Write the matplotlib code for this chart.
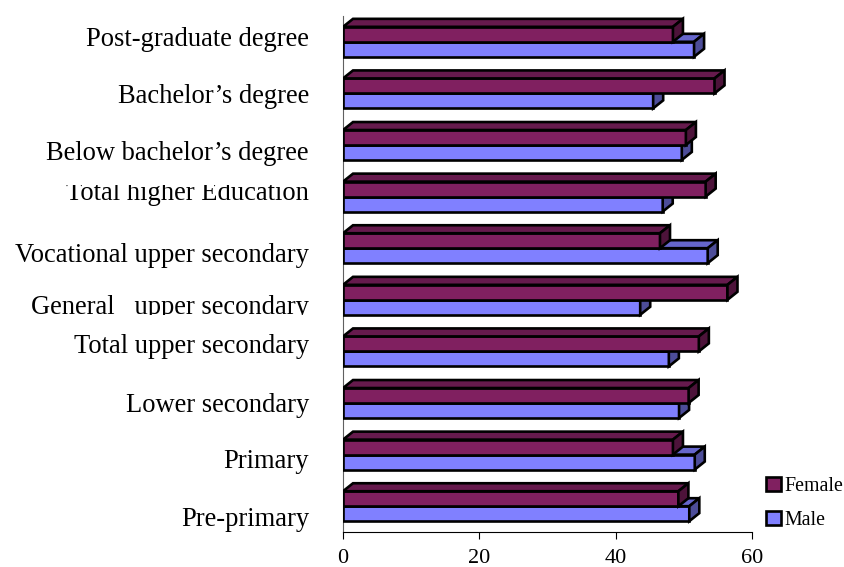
import matplotlib
matplotlib.use('Agg')
import matplotlib.pyplot as plt
from matplotlib.patches import Patch, Polygon
from matplotlib.transforms import Bbox

plt.rcParams['font.family'] = ['Liberation Serif', 'DejaVu Serif']

categories = ['Pre-primary', 'Primary', 'Lower secondary', 'Total upper secondary',
              'General   upper secondary', 'Vocational upper secondary',
              'Total higher Education', 'Below bachelor\u2019s degree',
              'Bachelor\u2019s degree', 'Post-graduate degree']
female = [49.2, 48.4, 50.7, 52.2, 56.4, 46.5, 53.2, 50.3, 54.5, 48.4]
male = [50.8, 51.6, 49.3, 47.8, 43.6, 53.5, 46.9, 49.7, 45.5, 51.5]
xticks = [0, 20, 40, 60]

# labels don't sit on the bars evenly in the original, shift in px
label_shift = [13, 7, 2, -5, 8, 7.5, -3, 9, 3, -2]

bar_h = 0.29
dx = 1.47
dy = 0.155
lw = 1.9


def draw_bars(ax, ys, vals, front, top, side):
    ax.barh(ys, vals, height=bar_h, color=front, edgecolor='black', linewidth=lw, zorder=3)
    for y, v in zip(ys, vals):
        y0 = y - bar_h / 2
        y1 = y + bar_h / 2
        ax.add_patch(Polygon([(0, y1), (dx, y1 + dy), (v + dx, y1 + dy), (v, y1)],
                             facecolor=top, edgecolor='black', linewidth=lw, zorder=3))
        ax.add_patch(Polygon([(v, y0), (v + dx, y0 + dy), (v + dx, y1 + dy), (v, y1)],
                             facecolor=side, edgecolor='black', linewidth=lw, zorder=3))


fig = plt.figure(figsize=(8.45, 5.67), dpi=100)
ax = fig.add_axes([343 / 845, 1 - 532 / 567, 409 / 845, 516 / 567])

pos = list(range(len(categories)))
draw_bars(ax, [p - bar_h / 2 for p in pos], male, '#8080FF', '#6666CC', '#4D4D99')
draw_bars(ax, [p + bar_h / 2 for p in pos], female, '#802060', '#661A4D', '#4D133A')

ax.set_xlim(0, 60)
ax.set_ylim(-0.5, 9.5)
ax.set_xticks(xticks)
ax.set_yticks([])
ax.tick_params(axis='x', labelsize=16, length=5, width=0.8, pad=7.5)
for s in ['top', 'right']:
    ax.spines[s].set_visible(False)
ax.spines['left'].set_color('#606060')
ax.spines['left'].set_linewidth(0.8)
ax.spines['bottom'].set_linewidth(0.8)

for p, name, shift in zip(pos, categories, label_shift):
    t = ax.annotate(name, xy=(0, p), xytext=(-34 * 0.72, -shift * 0.72), textcoords='offset points',
                    ha='right', va='center', fontsize=19.1)
    # these two are cut by the neighbouring label's box in the original
    if name.startswith('Total higher'):
        t.set_clip_box(Bbox([[0, 0], [345, 567 - 185]]))
        t.set_clip_on(True)
    if name.startswith('General'):
        t.set_clip_box(Bbox([[0, 567 - 315], [345, 567]]))
        t.set_clip_on(True)

handles = [Patch(facecolor='#802060', edgecolor='black', linewidth=lw, label='Female'),
           Patch(facecolor='#8080FF', edgecolor='black', linewidth=lw, label='Male')]
fig.legend(handles=handles, loc='lower left', bbox_to_anchor=(766 / 845, 1 - 530 / 567),
           frameon=False, fontsize=14.3, handlelength=0.75, handleheight=0.75,
           handletextpad=0.2, labelspacing=0.75, borderpad=0, borderaxespad=0)

fig.savefig('out.png', dpi=100)
